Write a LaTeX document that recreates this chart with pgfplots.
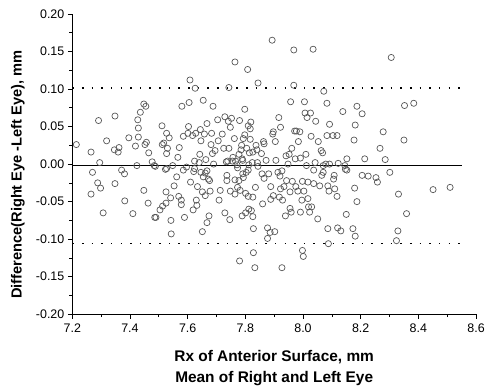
\documentclass[border=0pt]{standalone}
\usepackage{pgfplots}
\pgfplotsset{compat=1.18}
\usepackage{pgfplotstable}
\usepackage{fontspec}
\setmainfont{Liberation Sans}
\pgfplotstableread{
x y
7.214 0.026
7.265 -0.040
7.265 0.016
7.270 -0.011
7.291 0.058
7.295 0.002
7.288 -0.025
7.298 -0.032
7.307 -0.065
7.319 0.031
7.348 0.064
7.346 0.019
7.348 -0.026
7.359 0.016
7.362 0.022
7.371 -0.008
7.381 -0.013
7.382 -0.049
7.396 0.035
7.410 -0.066
7.419 0.024
7.424 -0.002
7.429 0.036
7.429 0.048
7.427 0.059
7.436 0.069
7.448 0.080
7.455 0.077
7.452 0.026
7.457 0.029
7.448 -0.035
7.465 0.015
7.463 -0.052
7.477 0.003
7.484 -0.002
7.488 -0.003
7.486 -0.071
7.490 -0.071
7.511 0.051
7.512 0.026
7.517 0.028
7.504 -0.061
7.513 -0.056
7.523 -0.007
7.527 -0.006
7.525 -0.037
7.527 0.041
7.530 0.021
7.527 0.014
7.525 -0.052
7.536 0.035
7.541 -0.045
7.542 -0.075
7.543 -0.093
7.548 -0.002
7.553 -0.029
7.562 -0.017
7.566 0.009
7.571 0.022
7.569 -0.043
7.578 -0.048
7.578 -0.054
7.580 0.077
7.585 0.037
7.585 -0.008
7.589 -0.071
7.596 -0.004
7.601 0.041
7.603 0.050
7.605 0.082
7.608 0.112
7.610 -0.024
7.617 0.038
7.621 -0.010
7.624 0.004
7.624 -0.006
7.626 0.101
7.628 0.041
7.619 -0.061
7.630 -0.048
7.632 -0.055
7.634 -0.030
7.640 0.002
7.642 0.013
7.644 0.046
7.646 0.031
7.646 -0.011
7.651 -0.090
7.651 -0.037
7.654 0.085
7.654 -0.017
7.658 0.040
7.661 -0.012
7.661 -0.042
7.663 0.006
7.667 0.054
7.667 -0.009
7.667 -0.078
7.672 -0.020
7.674 -0.069
7.676 -0.022
7.678 -0.036
7.681 0.026
7.683 0.041
7.686 0.014
7.688 0.077
7.690 0.000
7.695 0.018
7.704 0.059
7.706 0.031
7.709 -0.048
7.713 -0.035
7.720 0.040
7.725 0.021
7.729 -0.065
7.729 0.063
7.734 0.003
7.736 -0.022
7.736 -0.015
7.739 0.004
7.741 0.057
7.743 0.102
7.743 0.021
7.746 -0.074
7.748 -0.036
7.748 0.049
7.752 0.061
7.755 0.004
7.757 0.009
7.762 0.034
7.764 0.136
7.764 -0.021
7.764 -0.040
7.766 0.004
7.771 -0.001
7.773 -0.031
7.773 -0.005
7.778 0.013
7.778 -0.022
7.780 0.058
7.782 -0.035
7.780 -0.129
7.785 0.019
7.787 0.025
7.789 -0.069
7.789 0.007
7.791 0.005
7.791 -0.013
7.793 0.034
7.793 -0.018
7.798 0.073
7.798 0.039
7.801 -0.065
7.801 -0.039
7.803 -0.011
7.805 0.021
7.808 0.126
7.810 -0.008
7.810 -0.043
7.810 0.051
7.812 -0.001
7.812 -0.060
7.814 0.015
7.817 0.033
7.817 0.047
7.819 0.056
7.821 -0.062
7.824 0.002
7.826 -0.070
7.826 -0.044
7.826 0.016
7.828 -0.086
7.828 -0.118
7.833 -0.138
7.835 -0.031
7.837 0.025
7.840 0.019
7.842 0.002
7.844 0.108
7.844 -0.003
7.856 0.014
7.858 -0.013
7.860 -0.053
7.863 0.030
7.865 0.027
7.865 -0.019
7.872 0.005
7.877 -0.085
7.877 -0.099
7.881 -0.013
7.886 -0.091
7.888 -0.030
7.888 -0.047
7.893 0.165
7.895 0.040
7.897 -0.042
7.897 0.043
7.902 -0.090
7.904 0.030
7.906 0.005
7.913 -0.011
7.916 0.062
7.918 -0.044
7.920 -0.016
7.922 0.049
7.922 -0.033
7.927 -0.009
7.927 -0.138
7.929 -0.048
7.934 -0.030
7.939 -0.069
7.941 0.011
7.943 -0.022
7.948 0.000
7.952 0.013
7.955 -0.037
7.955 -0.059
7.957 0.083
7.959 -0.064
7.961 0.021
7.963 -0.023
7.968 0.105
7.968 0.152
7.971 0.044
7.973 0.007
7.975 -0.030
7.977 0.044
7.982 -0.036
7.984 0.030
7.989 0.043
7.991 0.008
7.991 -0.064
7.996 -0.048
7.998 -0.023
7.998 -0.115
8.001 -0.123
8.003 -0.036
8.005 0.083
8.007 0.068
8.010 0.013
8.012 -0.002
8.014 0.062
8.017 -0.024
8.017 -0.046
8.019 -0.057
8.023 -0.064
8.026 0.068
8.028 0.037
8.030 -0.057
8.035 0.153
8.037 -0.026
8.037 -0.008
8.042 0.002
8.044 0.057
8.051 -0.073
8.053 0.030
8.058 -0.029
8.063 0.018
8.065 -0.015
8.068 0.015
8.070 -0.002
8.070 -0.011
8.072 0.097
8.079 0.000
8.083 0.081
8.083 0.038
8.086 -0.029
8.086 -0.086
8.088 -0.106
8.090 -0.036
8.092 0.000
8.092 0.053
8.104 0.038
8.106 -0.020
8.108 -0.015
8.110 -0.033
8.118 0.038
8.118 -0.043
8.120 -0.085
8.122 0.001
8.131 -0.089
8.138 0.070
8.145 -0.002
8.147 -0.007
8.150 -0.067
8.152 0.007
8.152 -0.008
8.173 -0.086
8.177 0.032
8.179 -0.032
8.181 0.052
8.181 -0.096
8.187 0.077
8.187 -0.050
8.205 0.067
8.205 -0.015
8.214 0.007
8.226 -0.016
8.253 -0.018
8.258 -0.024
8.267 0.021
8.278 0.043
8.285 0.006
8.301 -0.011
8.306 0.142
8.324 -0.102
8.329 -0.089
8.331 -0.040
8.350 0.032
8.352 0.078
8.359 -0.066
8.384 0.081
8.451 -0.034
8.510 -0.031
}\scatterdata
\begin{document}
\begin{tikzpicture}
\begin{axis}[
  at={(0,0)}, anchor=south west,
  scale only axis,
  width=406pt, height=302pt,
  xmin=7.2, xmax=8.6, ymin=-0.2, ymax=0.2,
  axis x line*=bottom, axis y line*=left,
  axis line style={line width=0.8pt, -},
  xtick={7.2,7.4,...,8.61}, minor xtick={7.3,7.5,...,8.51},
  ytick={-0.2,-0.15,...,0.21}, minor ytick={-0.175,-0.125,...,0.18},
  tick align=outside,
  major tick length=4.5pt, minor tick length=3pt,
  every tick/.style={black, line width=0.7pt},
  /pgf/number format/assume math mode=true,
  xticklabel style={yshift=-2pt, /pgf/number format/.cd, fixed, fixed zerofill, precision=1},
  yticklabel style={/pgf/number format/.cd, fixed, fixed zerofill, precision=2},
  ticklabel style={font=\fontsize{12.5}{14}\selectfont},
  scaled y ticks=false,
  xlabel={Rx of Anterior Surface, mm\\[2pt]Mean of Right and Left Eye},
  ylabel={Difference(Right Eye -Left Eye), mm},
  xlabel style={align=center, font=\bfseries\fontsize{15.5}{19}\selectfont, at={(axis description cs:0.5,0)}, anchor=north, yshift=-33pt},
  ylabel style={font=\bfseries\fontsize{14.7}{17}\selectfont, at={(axis description cs:-0.135,0.465)}, anchor=center},
  clip=false,
]
\addplot[only marks, mark=o, mark size=3.1pt, mark options={draw=black!66, line width=0.7pt}] table[x=x,y=y] {\scatterdata};
\addplot[black, line width=1.1pt] coordinates {(7.2,-0.0015) (8.55,-0.0015)};
\addplot[black, line width=1.6pt, dash pattern=on 1.6pt off 8.1pt] coordinates {(7.2,0.101) (8.55,0.101)};
\addplot[black, line width=1.6pt, dash pattern=on 1.6pt off 8.1pt] coordinates {(7.2,-0.106) (8.55,-0.106)};
\end{axis}
\useasboundingbox (-72.7pt,-74pt) rectangle (415pt,316pt);
\end{tikzpicture}
\end{document}
